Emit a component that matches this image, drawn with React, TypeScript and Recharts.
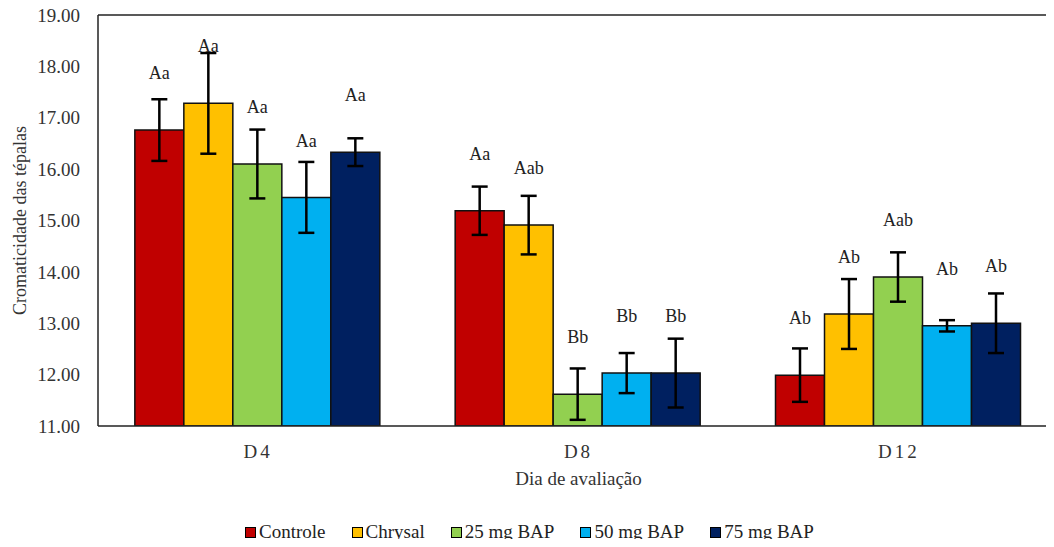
import { BarChart, Bar, XAxis, YAxis, ErrorBar, LabelList, Legend, ReferenceLine } from "recharts";

// Dias de avaliação
const days = ["D4", "D8", "D12"];

// Médias por tratamento
const controle = [16.76, 15.19, 11.99];
const chrysal = [17.28, 14.91, 13.18];
const bap25 = [16.1, 11.62, 13.9];
const bap50 = [15.45, 12.03, 12.95];
const bap75 = [16.33, 12.03, 13.0];

// Erros (±)
const controleErr = [0.6, 0.47, 0.52];
const chrysalErr = [0.98, 0.57, 0.68];
const bap25Err = [0.67, 0.5, 0.48];
const bap50Err = [0.69, 0.39, 0.11];
const bap75Err = [0.27, 0.67, 0.58];

// Letras do teste de médias
const controleLetters = ["Aa", "Aa", "Ab"];
const chrysalLetters = ["Aa", "Aab", "Ab"];
const bap25Letters = ["Aa", "Bb", "Aab"];
const bap50Letters = ["Aa", "Bb", "Ab"];
const bap75Letters = ["Aa", "Bb", "Ab"];

const yTicks = [11, 12, 13, 14, 15, 16, 17, 18, 19];

const FONT = '"Liberation Serif", "Times New Roman", Tinos, "DejaVu Serif", serif';

const series = [
  { key: "controle", name: "Controle", color: "#C00000", values: controle, err: controleErr, letters: controleLetters },
  { key: "chrysal", name: "Chrysal", color: "#FFC000", values: chrysal, err: chrysalErr, letters: chrysalLetters },
  { key: "bap25", name: "25 mg BAP", color: "#92D050", values: bap25, err: bap25Err, letters: bap25Letters },
  { key: "bap50", name: "50 mg BAP", color: "#00B0F0", values: bap50, err: bap50Err, letters: bap50Letters },
  { key: "bap75", name: "75 mg BAP", color: "#002060", values: bap75, err: bap75Err, letters: bap75Letters },
];

const data = days.map((day, i) => {
  const row: any = { day };
  series.forEach((s) => {
    row[s.key] = s.values[i];
    row[s.key + "Err"] = s.err[i];
    row[s.key + "Letter"] = s.letters[i];
  });
  return row;
});

// letra fixa acima do topo da barra, como no Excel
const LetterLabel = (props: any) => {
  const { x, y, width, value } = props;
  return (
    <text
      x={x + width / 2}
      y={y - 55}
      textAnchor="middle"
      dominantBaseline="middle"
      style={{ fontFamily: FONT, fontSize: 18, fill: "#222" }}
    >
      {value}
    </text>
  );
};

const CustomLegend = () => (
  <div
    style={{
      display: "flex",
      justifyContent: "center",
      gap: 26,
      fontFamily: FONT,
      fontSize: 19,
      lineHeight: "22px",
      color: "#222",
    }}
  >
    {series.map((s) => (
      <div key={s.key} style={{ display: "flex", alignItems: "center" }}>
        <span
          style={{
            display: "inline-block",
            width: 9,
            height: 9,
            background: s.color,
            border: "1.5px solid #000",
            marginRight: 3,
          }}
        />
        {s.name}
      </div>
    ))}
  </div>
);

export default function App() {
  return (
    <div style={{ width: 1054, height: 547, overflow: "hidden", margin: -8, position: "relative", fontFamily: FONT }}>
      <BarChart
        width={1070}
        height={547}
        data={data}
        margin={{ top: 15, right: 11, left: 0, bottom: 0 }}
        barCategoryGap="11.5%"
        barGap={0}
        style={{ fontFamily: FONT }}
      >
        <XAxis
          dataKey="day"
          height={99}
          axisLine={{ stroke: "#222", strokeWidth: 1.5 }}
          tickLine={false}
          tickMargin={13}
          tick={{ fill: "#333", fontSize: 19, letterSpacing: 3, style: { fontFamily: FONT } }}
          label={{
            value: "Dia de avaliação",
            position: "insideTop",
            offset: 46,
            style: { fill: "#333", fontFamily: FONT, fontSize: 19 },
          }}
        />
        <YAxis
          width={98}
          domain={[11, 19]}
          ticks={yTicks}
          interval={0}
          allowDataOverflow
          axisLine={{ stroke: "#222", strokeWidth: 1.5 }}
          tickLine={false}
          tickMargin={12}
          tickFormatter={(v) => v.toFixed(2)}
          tick={{ fill: "#333", fontSize: 19, style: { fontFamily: FONT } }}
          label={{
            value: "Cromaticidade das tépalas",
            angle: -90,
            position: "insideLeft",
            offset: 20,
            style: { textAnchor: "middle", fill: "#333", fontFamily: FONT, fontSize: 18 },
          }}
        />
        <ReferenceLine y={19} stroke="#222" strokeWidth={1.5} />
        <Legend
          verticalAlign="bottom"
          content={<CustomLegend />}
          wrapperStyle={{ top: 521, bottom: "auto" }}
        />
        {series.map((s) => (
          <Bar
            key={s.key}
            dataKey={s.key}
            name={s.name}
            fill={s.color}
            stroke="#111"
            strokeWidth={1.5}
            isAnimationActive={false}
          >
            <ErrorBar dataKey={s.key + "Err"} width={8} strokeWidth={2.5} stroke="#000" direction="y" />
            <LabelList dataKey={s.key + "Letter"} content={<LetterLabel />} />
          </Bar>
        ))}
      </BarChart>
    </div>
  );
}
